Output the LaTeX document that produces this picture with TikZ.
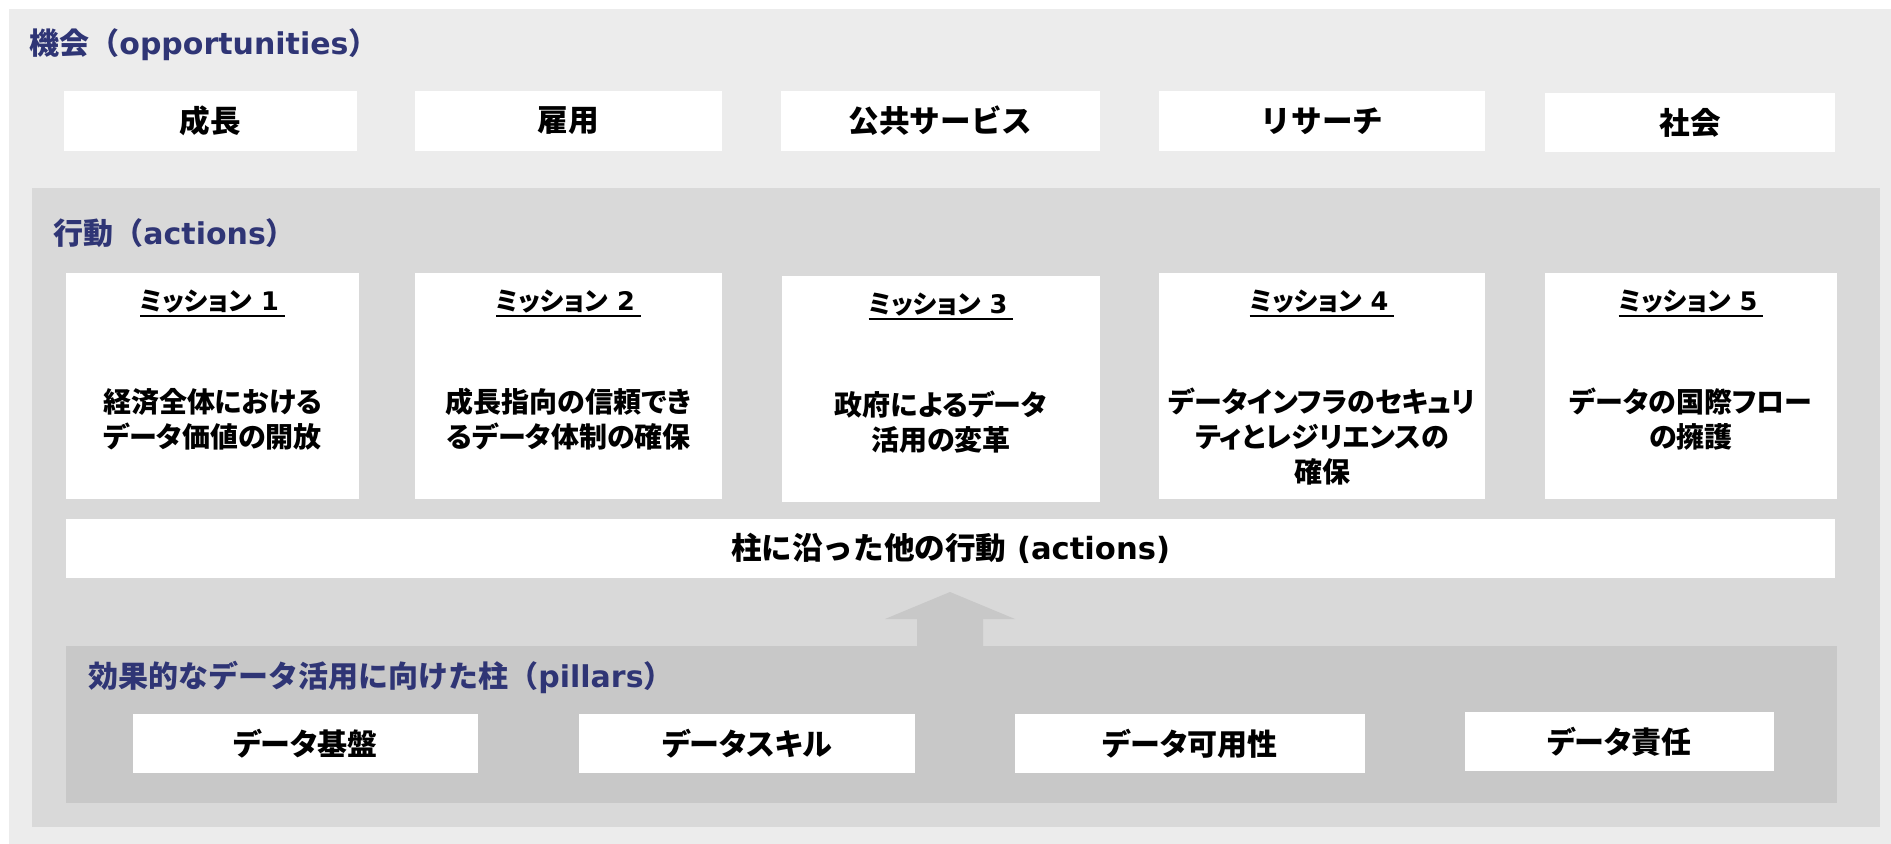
\documentclass[tikz,border=0pt]{standalone}
\usepackage{fontspec}
\newfontfamily\jp{Noto Sans CJK JP}
\newfontfamily\jpp{Noto Sans CJK JP}[RawFeature={+palt}]
\newfontfamily\lat{DejaVu Sans}
\definecolor{bgA}{HTML}{ECECEC}
\definecolor{bgB}{HTML}{D9D9D9}
\definecolor{bgC}{HTML}{C8C8C8}
\definecolor{navy}{RGB}{47,53,117}
\newcommand\mhul[1]{\setbox0\hbox{#1}\leavevmode\rlap{\rule[-3pt]{\wd0}{0.8pt}}\box0}
\begin{document}
\begin{tikzpicture}[x=0.5pt,y=-0.5pt,
  panel/.style={inner sep=0pt, outer sep=0pt},
  wbox/.style={fill=white, inner sep=0pt, outer sep=0pt, minimum height=30pt,
    font=\jp\bfseries\fontsize{15.3pt}{18pt}\selectfont},
  pbox/.style={wbox, minimum height=29.5pt, font=\jpp\bfseries\fontsize{15pt}{18pt}\selectfont},
  mbox/.style={fill=white, inner sep=0pt, outer sep=0pt, minimum height=113pt},
  mhead/.style={anchor=base, inner sep=0pt, font=\jpp\bfseries\fontsize{12.8pt}{16pt}\selectfont},
  mbody/.style={anchor=north, inner sep=0pt, align=center,
    font=\jpp\bfseries\fontsize{14pt}{17.5pt}\selectfont},
  title/.style={anchor=base west, inner sep=0pt, text=navy,
    font=\jp\bfseries\fontsize{15pt}{18pt}\selectfont}]
\useasboundingbox (0,0) rectangle (1891,844);
\fill[white] (0,0) rectangle (1891,844);
% panels
\node[panel, fill=bgA, minimum width=941pt, minimum height=417.5pt] (outer) at (950,426.5) {};
\node[panel, fill=bgB, minimum width=924pt, minimum height=319.5pt] (mid) at (956,507.5) {};
\node[panel, fill=bgC, minimum width=885.5pt, minimum height=78.5pt] (pp) at (951.5,724.5) {};
% titles
\node[title] (tOpp) at (29,55) {機会（{\lat opportunities}）};
\node[title] (tAct) at (53,245) {行動（{\lat actions}）};
\node[title] (tPil) at (88,687) {効果的なデータ活用に向けた柱（{\lat pillars}）};
% opportunities
\node[wbox, minimum width=146.5pt] (o1) at (210.5,121) {成長};
\node[wbox, minimum width=153.5pt] (o2) at (568.5,121) {雇用};
\node[wbox, minimum width=159.5pt] (o3) at (940.5,121) {公共サービス};
\node[wbox, minimum width=163pt] (o4) at (1322,121) {リサーチ};
\node[wbox, minimum width=145pt, minimum height=29.5pt] (o5) at (1690,122.5) {社会};
% missions
\node[mbox, minimum width=146.5pt] (m1) at (212.5,386) {};
\node[mbox, minimum width=153.5pt] (m2) at (568.5,386) {};
\node[mbox, minimum width=159pt] (m3) at (941,389) {};
\node[mbox, minimum width=163pt] (m4) at (1322,386) {};
\node[mbox, minimum width=146pt] (m5) at (1691,386) {};
\node[mhead] (m1h) at (212.5,311) {\mhul{ミッション{\lat~1}\hspace{3pt}}};
\node[mhead] (m2h) at (568.5,311) {\mhul{ミッション{\lat~2}\hspace{3pt}}};
\node[mhead] (m3h) at (941,314) {\mhul{ミッション{\lat~3}\hspace{3pt}}};
\node[mhead] (m4h) at (1322,311) {\mhul{ミッション{\lat~4}\hspace{3pt}}};
\node[mhead] (m5h) at (1691,311) {\mhul{ミッション{\lat~5}\hspace{3pt}}};
\node[mbody] (m1b) at (212.5,388) {経済全体における\\データ価値の開放};
\node[mbody] (m2b) at (568.5,388) {成長指向の信頼でき\\るデータ体制の確保};
\node[mbody] (m3b) at (941,391) {政府によるデータ\\活用の変革};
\node[mbody] (m4b) at (1322,388) {データインフラのセキュリ\\ティとレジリエンスの\\確保};
\node[mbody] (m5b) at (1691,388) {データの国際フロー\\の擁護};
% other actions bar
\node[wbox, minimum width=884.5pt, minimum height=29.5pt] (bar) at (950.5,548.5) {柱に沿った他の行動{\lat~(actions)}};
% block arrow
\fill[bgC] (917,646) -- (917,619) -- (885,619) -- (950,592) -- (1015,619) -- (983,619) -- (983,646) -- cycle;
% pillars
\node[pbox, minimum width=172.5pt] (p1) at (305.5,743.5) {データ基盤};
\node[pbox, minimum width=168pt] (p2) at (747,743.5) {データスキル};
\node[pbox, minimum width=175pt] (p3) at (1190,743.5) {データ可用性};
\node[pbox, minimum width=154.5pt] (p4) at (1619.5,741.5) {データ責任};
\end{tikzpicture}
\end{document}
